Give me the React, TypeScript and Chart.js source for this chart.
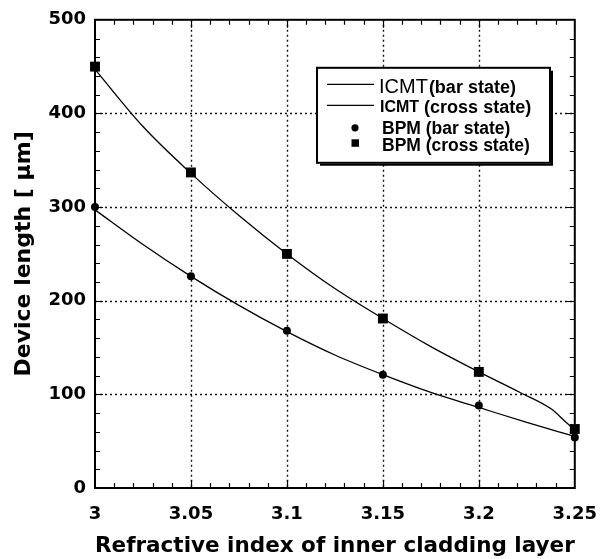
import { useEffect, useRef } from 'react';
import { Chart, registerables } from 'chart.js';

Chart.register(...registerables);

// ---- tick definitions ----
const xTickValues = [3.0, 3.05, 3.1, 3.15, 3.2, 3.25];
const xTickLabels = ['3', '3.05', '3.1', '3.15', '3.2', '3.25'];
const yTickValues = [0, 100, 200, 300, 400, 500];
const yTickLabels = ['0', '100', '200', '300', '400', '500'];
const xMinorStep = 0.01;
const yMinorStep = 20;

// ---- BPM simulation points ----
const bpmX = [3.0, 3.05, 3.1, 3.15, 3.2, 3.25];
const bpmBar = [300, 226, 168, 121, 88, 54];
const bpmCross = [450, 337, 250, 181, 124, 63];

// ---- ICMT curves ----
const icmtBarX = [3.0, 3.025, 3.05, 3.075, 3.1, 3.125, 3.15, 3.175, 3.2, 3.225, 3.25];
const icmtBar = [297, 260, 226, 195, 167, 142, 121, 102, 86, 70, 55];
const icmtCrossX = [3.0, 3.025, 3.05, 3.075, 3.1, 3.125, 3.15, 3.175, 3.2, 3.2215, 3.238, 3.245, 3.25];
const icmtCross = [447, 386, 336, 291, 250, 213, 181, 151, 124, 102, 84, 71, 62];

const legendRows = ['ICMT', '(bar state)', 'ICMT', ' (cross state)', 'BPM (bar state)', 'BPM (cross state)'];

const TICK_FONT = 'DejaVu Sans';
const LEGEND_FONT = '"Liberation Sans", Arial, sans-serif';

const toXY = (xs: number[], ys: number[]) => xs.map((x, i) => ({ x, y: ys[i] }));

export default function App() {
  const ref = useRef<HTMLCanvasElement>(null);

  useEffect(() => {
    const canvas = ref.current;
    if (!canvas) return;

    const framePlugin = {
      id: 'framePlugin',
      beforeDatasetsDraw(chart: any) {
        const { ctx, chartArea: a, scales } = chart;
        const xs = scales.x;
        const ys = scales.y;
        ctx.save();
        // dotted grid
        ctx.strokeStyle = '#111';
        ctx.lineWidth = 1.4;
        ctx.setLineDash([2, 3]);
        xTickValues.slice(1, -1).forEach((v) => {
          const px = Math.round(xs.getPixelForValue(v)) + 0.5;
          ctx.beginPath();
          ctx.moveTo(px, a.top);
          ctx.lineTo(px, a.bottom);
          ctx.stroke();
        });
        yTickValues.slice(1, -1).forEach((v) => {
          const py = Math.round(ys.getPixelForValue(v)) + 0.5;
          ctx.beginPath();
          ctx.moveTo(a.left, py);
          ctx.lineTo(a.right, py);
          ctx.stroke();
        });
        ctx.setLineDash([]);
        // inward ticks
        ctx.lineWidth = 1.2;
        ctx.strokeStyle = '#000';
        const xmin = xTickValues[0];
        const xmax = xTickValues[xTickValues.length - 1];
        const nX = Math.round((xmax - xmin) / xMinorStep);
        for (let i = 1; i < nX; i++) {
          const v = xmin + i * xMinorStep;
          const px = Math.round(xs.getPixelForValue(v)) + 0.5;
          const len = i % 5 === 0 ? 8 : 5;
          ctx.beginPath();
          ctx.moveTo(px, a.bottom);
          ctx.lineTo(px, a.bottom - len);
          ctx.moveTo(px, a.top);
          ctx.lineTo(px, a.top + len);
          ctx.stroke();
        }
        const ymin = yTickValues[0];
        const ymax = yTickValues[yTickValues.length - 1];
        const nY = Math.round((ymax - ymin) / yMinorStep);
        for (let i = 1; i < nY; i++) {
          const v = ymin + i * yMinorStep;
          const py = Math.round(ys.getPixelForValue(v)) + 0.5;
          const len = i % 5 === 0 ? 8 : 5;
          ctx.beginPath();
          ctx.moveTo(a.left, py);
          ctx.lineTo(a.left + len, py);
          ctx.moveTo(a.right, py);
          ctx.lineTo(a.right - len, py);
          ctx.stroke();
        }
        // frame
        ctx.lineWidth = 2;
        ctx.strokeRect(a.left, a.top, a.right - a.left, a.bottom - a.top);
        ctx.restore();
      },
      afterDraw(chart: any) {
        const { ctx, chartArea: a } = chart;
        const bx = a.left + 222;
        const by = a.top + 48;
        const bw = 233;
        const bh = 95;
        ctx.save();
        ctx.fillStyle = '#fff';
        ctx.fillRect(bx, by, bw, bh);
        ctx.strokeStyle = '#000';
        ctx.lineWidth = 2;
        ctx.strokeRect(bx, by, bw, bh);
        ctx.beginPath();
        ctx.moveTo(bx + bw + 2, by + 3);
        ctx.lineTo(bx + bw + 2, by + bh + 2);
        ctx.lineTo(bx + 3, by + bh + 2);
        ctx.stroke();

        const lx0 = bx + 10;
        const lx1 = bx + 57;
        ctx.lineWidth = 1.3;
        ctx.beginPath();
        ctx.moveTo(lx0, by + 16.5);
        ctx.lineTo(lx1, by + 16.5);
        ctx.stroke();
        ctx.beginPath();
        ctx.moveTo(lx0, by + 37.5);
        ctx.lineTo(lx1, by + 37.5);
        ctx.stroke();

        ctx.fillStyle = '#000';
        ctx.textBaseline = 'middle';
        ctx.textAlign = 'left';
        let tx = bx + 62;
        ctx.font = `20px ${LEGEND_FONT}`;
        ctx.fillText(legendRows[0], tx, by + 20);
        tx += ctx.measureText(legendRows[0]).width + 1;
        ctx.font = `bold 18px ${LEGEND_FONT}`;
        ctx.fillText(legendRows[1], tx, by + 20);

        tx = bx + 63;
        ctx.font = `bold 16px ${LEGEND_FONT}`;
        ctx.fillText(legendRows[2], tx, by + 40);
        tx += ctx.measureText(legendRows[2]).width;
        ctx.font = `bold 18px ${LEGEND_FONT}`;
        ctx.fillText(legendRows[3], tx, by + 40);

        ctx.beginPath();
        ctx.arc(bx + 38, by + 60, 3.6, 0, Math.PI * 2);
        ctx.fill();
        ctx.fillRect(bx + 34.5, by + 71.5, 7.5, 7.5);

        ctx.font = `bold 17.5px ${LEGEND_FONT}`;
        ctx.fillText(legendRows[4], bx + 65, by + 61);
        ctx.fillText(legendRows[5], bx + 65, by + 78);
        ctx.restore();
      },
    };

    const chart = new Chart(canvas, {
      type: 'scatter',
      data: {
        datasets: [
          {
            label: 'ICMT(bar state)',
            type: 'line',
            data: toXY(icmtBarX, icmtBar),
            borderColor: '#000',
            borderWidth: 1.3,
            pointRadius: 0,
            cubicInterpolationMode: 'monotone',
            fill: false,
            clip: false as any,
          },
          {
            label: 'ICMT (cross state)',
            type: 'line',
            data: toXY(icmtCrossX, icmtCross),
            borderColor: '#000',
            borderWidth: 1.3,
            pointRadius: 0,
            cubicInterpolationMode: 'monotone',
            fill: false,
            clip: false as any,
          },
          {
            label: 'BPM (bar state)',
            data: toXY(bpmX, bpmBar),
            pointStyle: 'circle',
            pointRadius: 4,
            backgroundColor: '#000',
            borderColor: '#000',
            borderWidth: 0,
            showLine: false,
            clip: false as any,
          },
          {
            label: 'BPM (cross state)',
            data: toXY(bpmX, bpmCross),
            pointStyle: 'rect',
            pointRadius: 7,
            backgroundColor: '#000',
            borderColor: '#000',
            borderWidth: 0,
            showLine: false,
            clip: false as any,
          },
        ],
      } as any,
      options: {
        animation: false,
        responsive: true,
        maintainAspectRatio: false,
        layout: { padding: { top: 15, right: 27, left: 0, bottom: 0 } },
        plugins: {
          legend: { display: false },
          tooltip: { enabled: false },
        },
        scales: {
          x: {
            type: 'linear',
            min: xTickValues[0],
            max: xTickValues[xTickValues.length - 1],
            grid: { display: false, drawTicks: false },
            border: { display: false },
            afterBuildTicks: (scale: any) => {
              scale.ticks = xTickValues.map((v) => ({ value: v }));
            },
            afterFit: (scale: any) => {
              scale.height = 71;
            },
            ticks: {
              autoSkip: false,
              maxRotation: 0,
              padding: 16,
              color: '#000',
              font: { family: TICK_FONT, size: 18, weight: 'bold' },
              callback: (_v: any, i: number) => xTickLabels[i],
            },
            title: {
              display: true,
              text: 'Refractive index of inner cladding layer',
              color: '#000',
              font: { family: TICK_FONT, size: 22, weight: 'bold' },
              padding: { top: 0, bottom: 0 },
            },
          },
          y: {
            type: 'linear',
            min: yTickValues[0],
            max: yTickValues[yTickValues.length - 1],
            grid: { display: false, drawTicks: false },
            border: { display: false },
            afterBuildTicks: (scale: any) => {
              scale.ticks = yTickValues.map((v) => ({ value: v }));
            },
            afterFit: (scale: any) => {
              scale.width = 95;
            },
            ticks: {
              autoSkip: false,
              padding: 9,
              color: '#000',
              font: { family: TICK_FONT, size: 18, weight: 'bold' },
              callback: (_v: any, i: number) => yTickLabels[i],
            },
            title: {
              display: true,
              text: 'Device length [ μm]',
              color: '#000',
              font: { family: TICK_FONT, size: 22, weight: 'bold' },
              padding: { top: 11, bottom: 0 },
            },
          },
        },
      } as any,
      plugins: [framePlugin],
    });

    return () => chart.destroy();
  }, []);

  return (
    <div style={{ position: 'absolute', left: 0, top: 0, width: 613, height: 559, background: '#fff' }}>
      <canvas ref={ref} />
    </div>
  );
}
